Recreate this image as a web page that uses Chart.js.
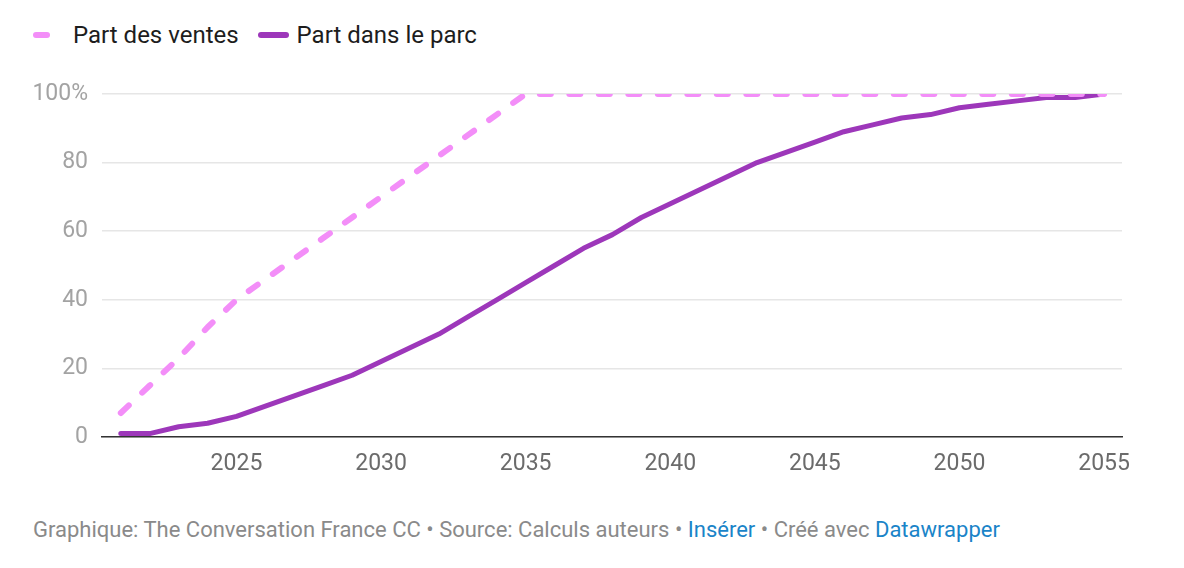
<!DOCTYPE html>
<html>
<head>
<meta charset="utf-8">
<script src="https://cdn.jsdelivr.net/npm/chart.js@4"></script>
<style>
  body { margin: 0; background: #fff; font-family: Roboto, sans-serif; width: 1184px; height: 568px; position: relative; overflow: hidden; }
  .legend { position: absolute; left: 33px; top: 20px; height: 30px; font-size: 24px; color: #1d1d1d; display: flex; align-items: center; }
  .legend .mk { display: inline-block; height: 6px; border-radius: 3px; }
  .legend .item { display: flex; align-items: center; }
  #wrap { position: absolute; left: 0; top: 60px; width: 1184px; height: 430px; }
  .foot { position: absolute; left: 33px; top: 516px; font-size: 22px; line-height: 28px; color: #8a8a8a; }
  .foot a { color: #1a84c8; text-decoration: none; }
</style>
</head>
<body>
<div class="legend">
  <span class="item"><span class="mk" style="width:17px;background:#f38ef8;margin-right:23px"></span>Part des ventes</span>
  <span class="item" style="margin-left:19px"><span class="mk" style="width:31px;background:#9d37ba;margin-right:8px"></span>Part dans le parc</span>
</div>
<div id="wrap"><canvas id="myChart"></canvas></div>
<div class="foot">Graphique: The Conversation France CC • Source: Calculs auteurs • <a>Insérer</a> • Créé avec <a>Datawrapper</a></div>
<script>
const years = [];
for (let y = 2021; y <= 2055; y++) years.push(y);

const partVentes = [7, 15, 23, 32, 40, 46, 52, 58, 64, 70, 76, 82, 88, 94, 100,
  100, 100, 100, 100, 100, 100, 100, 100, 100, 100,
  100, 100, 100, 100, 100, 100, 100, 100, 100, 100];
const partParc = [1, 1, 3, 4, 6, 9, 12, 15, 18, 22, 26, 30, 35, 40, 45,
  50, 55, 59, 64, 68, 72, 76, 80, 83, 86, 89, 91, 93, 94, 96, 97, 98, 99, 99, 100];
const xTicks = [2025, 2030, 2035, 2040, 2045, 2050, 2055];
const yTicks = [0, 20, 40, 60, 80, 100];

const ctx = document.getElementById('myChart').getContext('2d');

new Chart(ctx, {
  type: 'line',
  data: {
    datasets: [{
      label: 'Part des ventes',
      data: years.map((y, i) => ({ x: y, y: partVentes[i] })),
      borderColor: '#f38ef8',
      borderWidth: 6,
      borderDash: [11, 18.5],
      borderCapStyle: 'round',
      borderJoinStyle: 'round',
      pointRadius: 0,
      tension: 0
    }, {
      label: 'Part dans le parc',
      data: years.map((y, i) => ({ x: y, y: partParc[i] })),
      borderColor: '#9d37ba',
      borderWidth: 5,
      borderCapStyle: 'round',
      borderJoinStyle: 'round',
      pointRadius: 0,
      tension: 0
    }]
  },
  options: {
    responsive: true,
    maintainAspectRatio: false,
    animation: false,
    layout: { padding: { top: 34, right: 62, left: 0, bottom: 0 } },
    plugins: { legend: { display: false }, tooltip: { enabled: false } },
    scales: {
      x: {
        type: 'linear',
        min: 2020.35,
        max: 2055.62,
        afterBuildTicks: (s) => { s.ticks = xTicks.map(v => ({ value: v })); },
        afterFit: (s) => { s.height = 53; },
        grid: { display: false, drawTicks: false },
        border: { color: '#333', width: 1.5 },
        ticks: {
          padding: 13,
          color: '#6b6b6b',
          font: { family: 'Roboto', size: 23 },
          maxRotation: 0,
          callback: (v) => String(v)
        }
      },
      y: {
        min: 0,
        max: 100,
        afterBuildTicks: (s) => { s.ticks = yTicks.map(v => ({ value: v })); },
        afterFit: (s) => { s.width = 102; },
        grid: { color: '#e6e6e6', lineWidth: 1.5, drawTicks: false },
        border: { display: false },
        ticks: {
          padding: 14,
          color: '#a3a3a3',
          font: { family: 'Roboto', size: 23 },
          callback: (v) => v === 100 ? '100%' : String(v)
        }
      }
    }
  }
});
</script>
</body>
</html>
